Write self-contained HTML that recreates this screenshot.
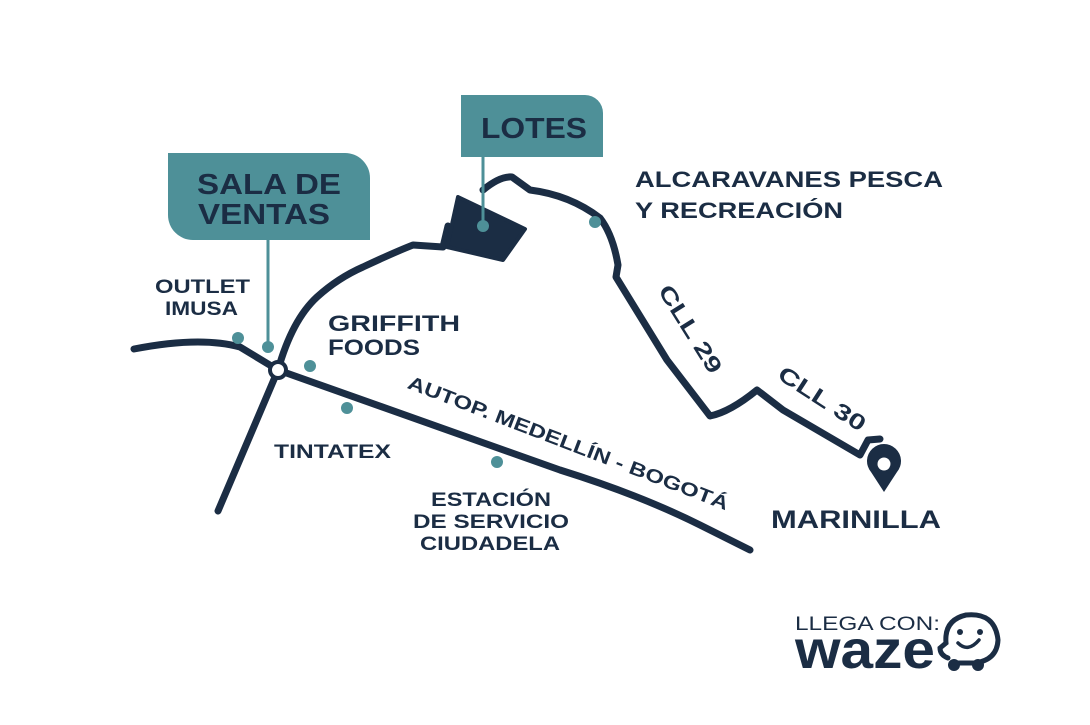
<!DOCTYPE html>
<html><head><meta charset="utf-8"><style>
html,body{margin:0;padding:0;background:#fff;}
svg{display:block;}
text{font-family:"Liberation Sans",sans-serif;fill:#1b2d44;font-weight:bold;}
</style></head><body>
<svg width="1090" height="725" viewBox="0 0 1090 725" xmlns="http://www.w3.org/2000/svg">
<g fill="none" stroke="#1b2d44" stroke-width="7" stroke-linejoin="round" stroke-linecap="round">
<path d="M134 349 Q200 336 240 347 L278 370 Q420 420 560 470 Q640 495 700 525 L750 550"/>
<path d="M218 511 L278 370 Q292 320 317 297 Q338 278 363 267 Q395 252 413 245 L443 247 L448 226"/>
<path d="M483 190 Q500 176 512 177 L530 190 Q570 195 600 218 Q613 235 618 265 L616 277 L667 360 L710 416 Q730 412 757 390 L783 410 L860 455 L868 440 L880 439"/>
</g>
<polygon points="458,197 525,229 503,260 447,247" fill="#1b2d44" stroke="#1b2d44" stroke-width="4" stroke-linejoin="round"/>
<circle cx="278" cy="370" r="8" fill="#fff" stroke="#1b2d44" stroke-width="4"/>
<path d="M884 492 L871 472 A17 17 0 1 1 897 472 Z" fill="#1b2d44"/>
<circle cx="884" cy="464" r="6.5" fill="#fff"/>
<path d="M168 153 H345 A25 25 0 0 1 370 178 V240 H193 A25 25 0 0 1 168 215 Z" fill="#4e9098"/>
<path d="M461 95 H585 A18 18 0 0 1 603 113 V157 H461 Z" fill="#4e9098"/>
<line x1="268" y1="240" x2="268" y2="347" stroke="#4e9098" stroke-width="3"/>
<line x1="483" y1="157" x2="483" y2="226" stroke="#4e9098" stroke-width="3"/>
<g fill="#4e9098">
<circle cx="238" cy="338" r="6"/><circle cx="268" cy="347" r="6"/><circle cx="310" cy="366" r="6"/>
<circle cx="347" cy="408" r="6"/><circle cx="497" cy="462" r="6"/><circle cx="595" cy="222" r="6"/><circle cx="483" cy="226" r="6"/>
</g>
<g lengthAdjust="spacingAndGlyphs">
<text x="197" y="194" font-size="29" textLength="144" lengthAdjust="spacingAndGlyphs">SALA DE</text>
<text x="198" y="224" font-size="29" textLength="132" lengthAdjust="spacingAndGlyphs">VENTAS</text>
<text x="481" y="138" font-size="29" textLength="106" lengthAdjust="spacingAndGlyphs">LOTES</text>
<text x="635" y="187" font-size="22" textLength="308" lengthAdjust="spacingAndGlyphs">ALCARAVANES PESCA</text>
<text x="635" y="218" font-size="22" textLength="208" lengthAdjust="spacingAndGlyphs">Y RECREACIÓN</text>
<text x="155" y="293" font-size="19" textLength="95" lengthAdjust="spacingAndGlyphs">OUTLET</text>
<text x="165" y="315" font-size="19" textLength="73" lengthAdjust="spacingAndGlyphs">IMUSA</text>
<text x="328" y="331" font-size="22" textLength="132" lengthAdjust="spacingAndGlyphs">GRIFFITH</text>
<text x="328" y="355" font-size="22" textLength="92" lengthAdjust="spacingAndGlyphs">FOODS</text>
<text x="274" y="458" font-size="19" textLength="117" lengthAdjust="spacingAndGlyphs">TINTATEX</text>
<text x="431" y="506" font-size="19" textLength="120" lengthAdjust="spacingAndGlyphs">ESTACIÓN</text>
<text x="413" y="528" font-size="19" textLength="156" lengthAdjust="spacingAndGlyphs">DE SERVICIO</text>
<text x="420" y="550" font-size="19" textLength="140" lengthAdjust="spacingAndGlyphs">CIUDADELA</text>
<text x="771" y="528" font-size="25" textLength="170" lengthAdjust="spacingAndGlyphs">MARINILLA</text>
<text transform="translate(684,333) rotate(58)" text-anchor="middle" font-size="22" textLength="100" lengthAdjust="spacingAndGlyphs">CLL 29</text>
<text transform="translate(818,405) rotate(33)" text-anchor="middle" font-size="22" textLength="100" lengthAdjust="spacingAndGlyphs">CLL 30</text>
<text transform="translate(566,449) rotate(21)" text-anchor="middle" font-size="19" textLength="342" lengthAdjust="spacingAndGlyphs">AUTOP. MEDELLÍN - BOGOTÁ</text>
<text x="795" y="630" font-size="19" style="font-weight:normal" textLength="145" lengthAdjust="spacingAndGlyphs">LLEGA CON:</text>
<text x="795" y="668" font-size="54" textLength="140" lengthAdjust="spacingAndGlyphs">waze</text>
</g>
<g fill="none" stroke="#1b2d44" stroke-width="5" stroke-linecap="round">
<path d="M948 658 Q940 655 940 648 L946 643 Q944 620 966 615 Q995 612 998 640 Q997 660 975 663 L958 663"/>
<path d="M958 643 Q968 653 979 640" stroke-width="3.5"/>
</g>
<g fill="#1b2d44"><circle cx="960" cy="632" r="3"/><circle cx="980" cy="632" r="3"/>
<circle cx="954" cy="665" r="6"/><circle cx="978" cy="665" r="6"/></g>
</svg>
</body></html>
